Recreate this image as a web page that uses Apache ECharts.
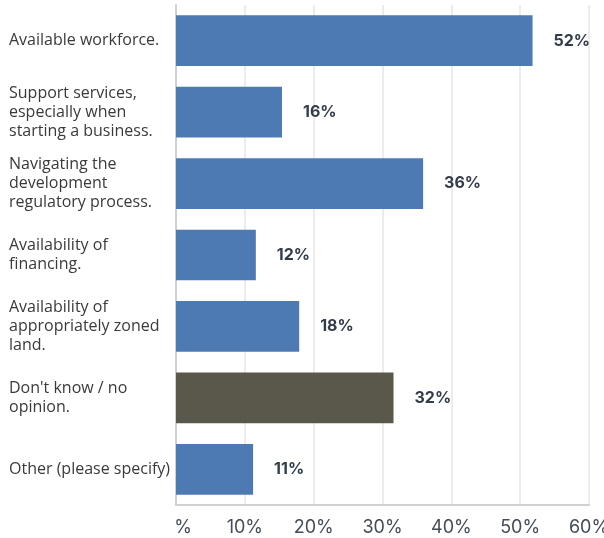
<!DOCTYPE html>
<html><head><meta charset="utf-8">
<script src="https://cdn.jsdelivr.net/npm/echarts@6/dist/echarts.min.js"></script>
<style>html,body{margin:0;padding:0;background:#fff}#c{width:604px;height:538px}</style>
</head><body><div id="c"></div>
<script>
const categories = [
  "Available workforce.",
  "Support services,\nespecially when\nstarting a business.",
  "Navigating the\ndevelopment\nregulatory process.",
  "Availability of\nfinancing.",
  "Availability of\nappropriately zoned\nland.",
  "Don't know / no\nopinion.",
  "Other (please specify)"
];
const values = [51.8, 15.4, 35.9, 11.6, 17.9, 31.6, 11.2];
const valueLabels = ["52%", "16%", "36%", "12%", "18%", "32%", "11%"];
const barColors = ["#4e7ab4", "#4e7ab4", "#4e7ab4", "#4e7ab4", "#4e7ab4", "#5a584a", "#4e7ab4"];
const tickLabels = ["%", "10%", "20%", "30%", "40%", "50%", "60%"];

const chart = echarts.init(document.getElementById('c'));
chart.setOption({
  animation: false,
  grid: { left: 176, right: 15, top: 5, bottom: 33, outerBoundsMode: 'none', containLabel: false },
  xAxis: {
    type: 'value', min: 0, max: 60, interval: 10,
    axisLine: { show: true, lineStyle: { color: '#d0d0d0', width: 2 } },
    axisTick: { show: false },
    splitLine: { lineStyle: { color: '#ececec', width: 2 } },
    axisLabel: {
      margin: 14,
      color: '#444c56', fontFamily: 'Inter', fontSize: 18,
      formatter: function (v) {
        const s = tickLabels[Math.round(v / 10)];
        return v === 0 ? '{z|' + s + '}' : s;
      },
      rich: { z: { padding: [0, 0, 0, 14], color: '#444c56', fontFamily: 'Inter', fontSize: 18 } }
    }
  },
  yAxis: {
    type: 'category', data: categories, inverse: true,
    axisLine: { show: true, lineStyle: { color: '#d0d0d0', width: 2 } },
    axisTick: { show: false },
    axisLabel: {
      align: 'left', margin: 167,
      color: '#3a3a3a', fontFamily: 'Open Sans', fontSize: 16, lineHeight: 19
    }
  },
  series: [{
    type: 'bar',
    data: values.map((v, i) => ({ value: v, itemStyle: { color: barColors[i] } })),
    barCategoryGap: '29%',
    label: {
      show: true, position: 'right', distance: 21,
      color: '#333d4a', fontFamily: 'Inter', fontWeight: 'bold', fontSize: 16,
      formatter: p => valueLabels[p.dataIndex]
    }
  }]
});
</script></body></html>
